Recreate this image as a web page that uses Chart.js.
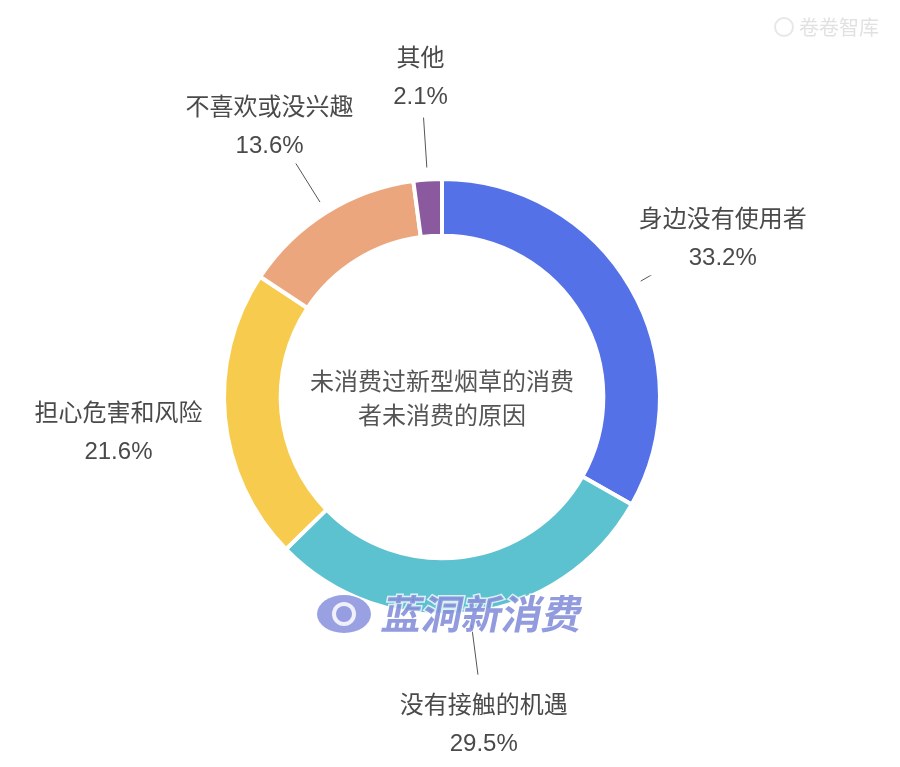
<!DOCTYPE html>
<html>
<head>
<meta charset="utf-8">
<script src="https://cdn.jsdelivr.net/npm/chart.js@4.4.1/dist/chart.umd.min.js"></script>
<style>
  html, body { margin: 0; padding: 0; background: #fff; }
  #wrap { width: 900px; height: 767px; position: relative; }
</style>
</head>
<body>
<div id="wrap"><canvas id="donut"></canvas></div>
<script>
// data
const reasons = ['身边没有使用者', '没有接触的机遇', '担心危害和风险', '不喜欢或没兴趣', '其他'];
const shares = [33.2, 29.5, 21.6, 13.6, 2.1];
const sliceColors = ['#5571e8', '#5cc2d0', '#f7cc4e', '#eca67e', '#8b599d'];
const hasLeader = [true, true, false, true, true];
const centerTitle = ['未消费过新型烟草的消费', '者未消费的原因'];

const FONT = '"Liberation Sans", "Noto Sans CJK SC", sans-serif';

// outside labels with leader lines + centre title + watermarks
const labelPlugin = {
  id: 'outsideLabels',
  afterDraw(chart) {
    const ctx = chart.ctx;
    const meta = chart.getDatasetMeta(0);
    ctx.save();

    meta.data.forEach((arc, i) => {
      const {x, y, startAngle, endAngle, outerRadius} = arc.getProps(['x', 'y', 'startAngle', 'endAngle', 'outerRadius'], true);
      const mid = (startAngle + endAngle) / 2;
      const cx = Math.cos(mid), cy = Math.sin(mid);

      if (hasLeader[i]) {
        ctx.strokeStyle = '#555';
        ctx.lineWidth = 1;
        ctx.beginPath();
        ctx.moveTo(x + cx * (outerRadius + 12), y + cy * (outerRadius + 12));
        ctx.lineTo(x + cx * (outerRadius + 62), y + cy * (outerRadius + 62));
        ctx.stroke();
      }

      const lx = x + cx * (outerRadius + 107);
      const ly = y + cy * (outerRadius + 107) + 6;
      ctx.font = '24px ' + FONT;
      const t1 = reasons[i];
      const t2 = shares[i].toFixed(1) + '%';
      const w = Math.max(ctx.measureText(t1).width, ctx.measureText(t2).width);
      ctx.fillStyle = '#fff';
      ctx.fillRect(lx - w / 2 - 6, ly - 36, w + 12, 72);
      ctx.fillStyle = '#4a4a4a';
      ctx.textAlign = 'center';
      ctx.textBaseline = 'middle';
      ctx.fillText(t1, lx, ly - 19);
      ctx.fillText(t2, lx, ly + 19);
    });

    // centre title
    const c = meta.data[0];
    ctx.fillStyle = '#555';
    ctx.font = '24px ' + FONT;
    ctx.textAlign = 'center';
    ctx.textBaseline = 'middle';
    ctx.fillText(centerTitle[0], c.x, c.y - 14);
    ctx.fillText(centerTitle[1], c.x, c.y + 20);

    // watermark: 蓝洞新消费
    ctx.save();
    ctx.globalAlpha = 0.85;
    ctx.fillStyle = '#8791dd';
    ctx.beginPath();
    ctx.ellipse(344, 614, 27, 19, 0, 0, Math.PI * 2);
    ctx.fill();
    ctx.fillStyle = '#fff';
    ctx.beginPath();
    ctx.arc(344, 614, 12, 0, Math.PI * 2);
    ctx.fill();
    ctx.fillStyle = '#8791dd';
    ctx.beginPath();
    ctx.arc(344, 614, 8, 0, Math.PI * 2);
    ctx.fill();
    ctx.setTransform(1, 0, -0.2, 1, 0, 0);
    ctx.font = 'bold 40px "Noto Sans CJK SC", sans-serif';
    ctx.textAlign = 'left';
    ctx.textBaseline = 'middle';
    ctx.lineWidth = 3;
    ctx.strokeStyle = 'rgba(255,255,255,0.9)';
    ctx.strokeText('蓝洞新消费', 383 + 0.2 * 614, 614);
    ctx.fillStyle = '#7f89d8';
    ctx.fillText('蓝洞新消费', 383 + 0.2 * 614, 614);
    ctx.restore();

    // watermark: 卷卷智库
    ctx.save();
    ctx.globalAlpha = 0.35;
    ctx.strokeStyle = '#bbb';
    ctx.lineWidth = 2;
    ctx.beginPath();
    ctx.arc(784, 27, 9, 0, Math.PI * 2);
    ctx.stroke();
    ctx.fillStyle = '#aaa';
    ctx.font = '20px "Noto Sans CJK SC", sans-serif';
    ctx.textAlign = 'left';
    ctx.textBaseline = 'middle';
    ctx.fillText('卷卷智库', 799, 27);
    ctx.restore();

    ctx.restore();
  }
};

new Chart(document.getElementById('donut'), {
  type: 'doughnut',
  data: {
    labels: reasons,
    datasets: [{
      data: shares,
      backgroundColor: sliceColors,
      borderColor: '#fff',
      borderWidth: 4,
      hoverOffset: 0
    }]
  },
  options: {
    responsive: true,
    maintainAspectRatio: false,
    animation: false,
    cutout: '74%',
    layout: { padding: { left: 222, right: 238, top: 177, bottom: 150 } },
    plugins: {
      legend: { display: false },
      tooltip: { enabled: false }
    },
    events: []
  },
  plugins: [labelPlugin]
});
</script>
</body>
</html>
